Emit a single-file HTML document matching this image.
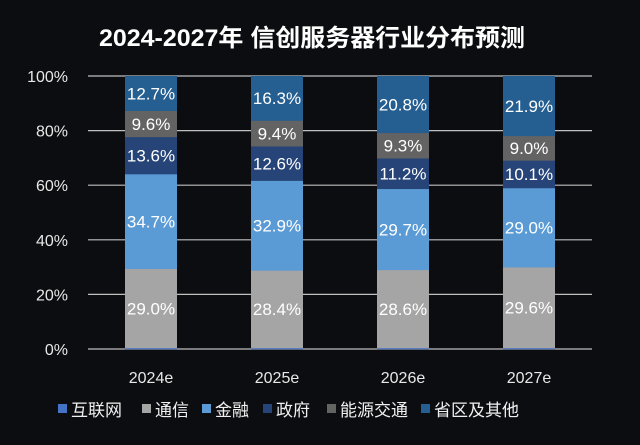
<!DOCTYPE html>
<html><head><meta charset="utf-8"><style>
body{margin:0;background:#0c0d11;width:640px;height:445px;overflow:hidden}
svg{display:block}
text{font-family:"Liberation Sans","Noto Sans CJK SC",sans-serif}
</style></head><body>
<svg id="s" width="640" height="445" xmlns="http://www.w3.org/2000/svg">
<rect width="640" height="445" fill="#0c0d11"/>
<text x="312" y="46" fill="#fff" font-size="24" font-weight="bold" text-anchor="middle" textLength="426" lengthAdjust="spacingAndGlyphs">2024-2027年 信创服务器行业分布预测</text>
</svg>
<script>
var s=document.getElementById('s'),ns='http://www.w3.org/2000/svg';
function el(t,a,txt){var e=document.createElementNS(ns,t);for(var k in a)e.setAttribute(k,a[k]);if(txt)e.textContent=txt;s.appendChild(e);return e;}
var y0=349,H=273;
for(var i=0;i<=5;i++){var y=y0-H*i/5;el('line',{x1:88,x2:592,y1:y,y2:y,stroke:'#bfbfbf','stroke-width':1.2});
el('text',{x:68,y:y+6,fill:'#e8e8e8','font-size':16,'text-anchor':'end'},(i*20)+'%');}
var cols=['#4472c4','#a5a5a5','#5b9bd5','#264478','#636363','#255e91'];
var data=[[0.4,29.0,34.7,13.6,9.6,12.7],[0.4,28.4,32.9,12.6,9.4,16.3],[0.4,28.6,29.7,11.2,9.3,20.8],[0.4,29.6,29.0,10.1,9.0,21.9]];
var cx=[151,277,403,529],yrs=['2024e','2025e','2026e','2027e'];
data.forEach(function(d,j){var acc=0;d.forEach(function(v,k){var yt=y0-H*(acc+v)/100,h=H*v/100;
el('rect',{x:cx[j]-26,y:yt,width:52,height:h+0.3,fill:cols[k]});
if(k>0)el('text',{x:cx[j],y:yt+h/2+6,fill:'#fff','font-size':17,'text-anchor':'middle'},v.toFixed(1)+'%');
acc+=v;});
el('text',{x:cx[j],y:383,fill:'#e8e8e8','font-size':16,'text-anchor':'middle'},yrs[j]);});
var lg=[[58,'互联网'],[142,'通信'],[202,'金融'],[263,'政府'],[327,'能源交通'],[421,'省区及其他']];
lg.forEach(function(l,k){el('rect',{x:l[0],y:404,width:9,height:9,fill:cols[k]});
el('text',{x:l[0]+13,y:416,fill:'#f0f0f0','font-size':17},l[1]);});
</script>
</body></html>
